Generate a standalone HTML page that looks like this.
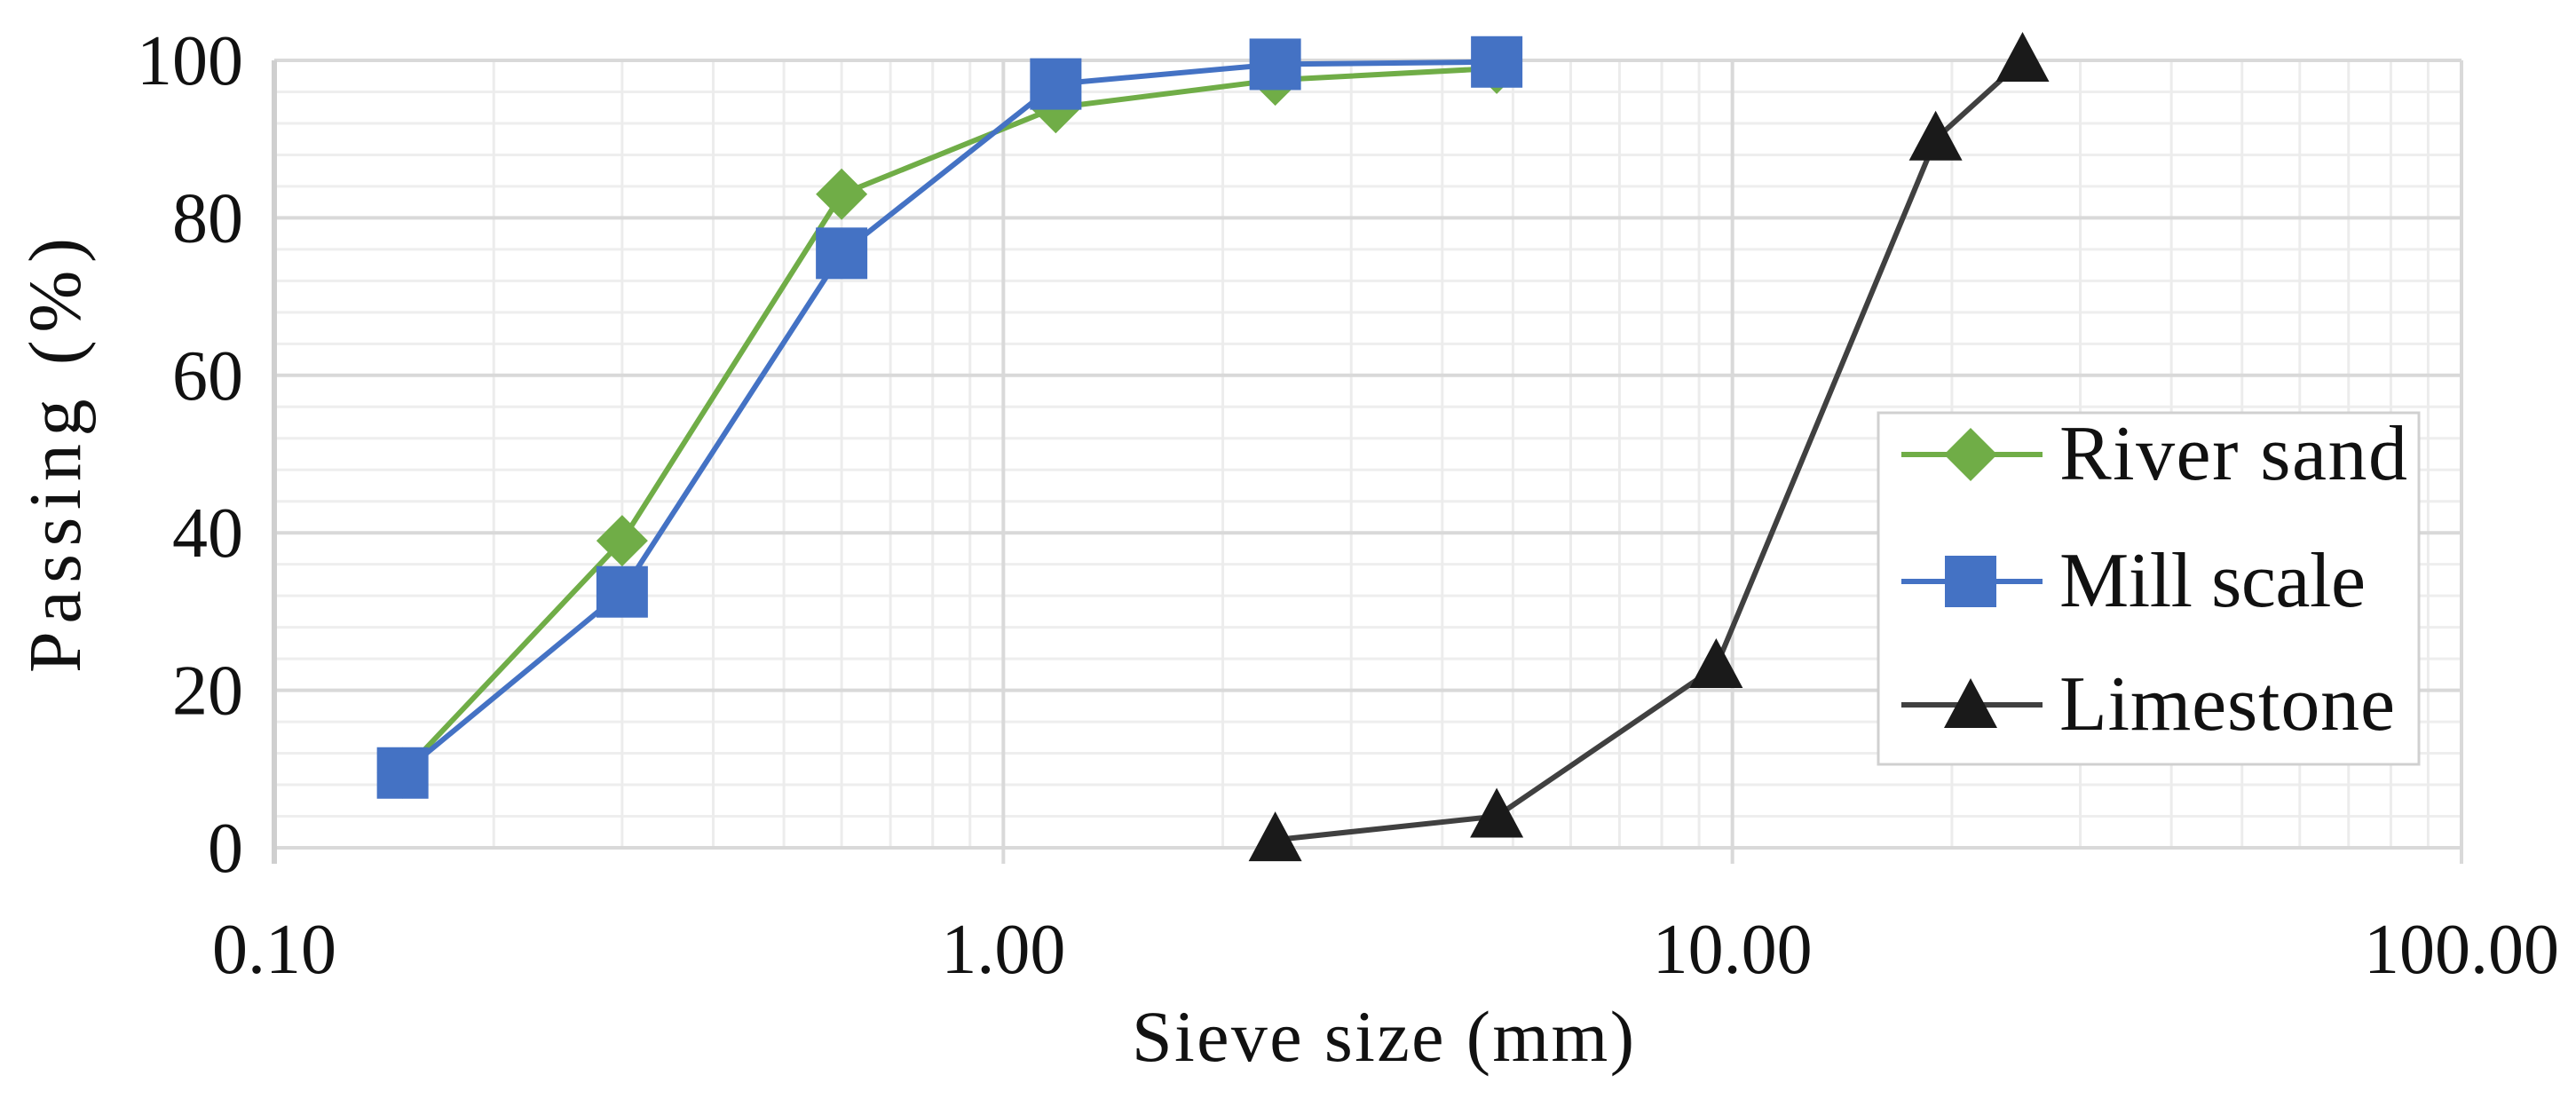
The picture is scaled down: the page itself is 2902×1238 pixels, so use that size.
<!DOCTYPE html>
<html><head><meta charset="utf-8"><style>
html,body{margin:0;padding:0;background:#fff;}
svg{display:block;font-family:"Liberation Serif",serif;}
</style></head><body>
<svg id="chart" width="2902" height="1238" viewBox="0 0 2902 1238" xmlns="http://www.w3.org/2000/svg">
<g id="grid"></g>
<g id="axes"></g>
<g id="series"></g>
<text x="1558" y="1195" font-size="82" text-anchor="middle" textLength="566" fill="#111">Sieve size (mm)</text>
<text transform="translate(90,513) rotate(-90)" font-size="84" text-anchor="middle" textLength="490" fill="#111">Passing (%)</text>
<g>
<rect x="2116" y="465" width="609" height="396" fill="#fff" stroke="#d0d0d0" stroke-width="3"/>
<g>
<line x1="2142" y1="512" x2="2301" y2="512" stroke="#70AD47" stroke-width="6"/>
<polygon points="2220,482 2250,512 2220,542 2190,512" fill="#70AD47"/>
<text x="2320" y="540" font-size="88" textLength="392" fill="#111">River sand</text></g>
<g>
<line x1="2142" y1="655" x2="2301" y2="655" stroke="#4472C4" stroke-width="6"/>
<rect x="2191" y="626" width="58" height="58" fill="#4472C4"/>
<text x="2320" y="683" font-size="88" textLength="345" fill="#111">Mill scale</text></g>
<g>
<line x1="2142" y1="794" x2="2301" y2="794" stroke="#404040" stroke-width="6"/>
<polygon points="2220,764 2250,820 2190,820" fill="#1a1a1a"/>
<text x="2320" y="822" font-size="88" textLength="378" fill="#111">Limestone</text></g>
</g>
</svg>
<script>
const xTicks=[0.1,1,10,100];
const xTickLabels=["0.10","1.00","10.00","100.00"];
const yTicks=[0,20,40,60,80,100];
const sandX=[0.15,0.3,0.6,1.18,2.36,4.75];
const sandY=[9.5,39,83,94,97.5,99];
const millX=[0.15,0.3,0.6,1.18,2.36,4.75];
const millY=[9.5,32.5,75.5,97,99.5,99.8];
const limeX=[2.36,4.75,9.5,19,25];
const limeY=[1,4,23,90,100];

const L=309,R=2773,T=68,B=955;
const xs=v=>L+(Math.log10(v)+1)/3*(R-L);
const ys=v=>B-v/100*(B-T);
const NS="http://www.w3.org/2000/svg";
function mk(tag,attrs,parent){const e=document.createElementNS(NS,tag);for(const k in attrs)e.setAttribute(k,attrs[k]);parent.appendChild(e);return e;}
const grid=document.getElementById('grid'),axes=document.getElementById('axes'),ser=document.getElementById('series');
for(let v=0;v<=100;v+=4){if(v%20===0)continue;const l=mk('line',{x1:L,x2:R,y1:ys(v),y2:ys(v),stroke:'#eeeeee','stroke-width':3},grid);

}
for(let d=0.1;d<100;d*=10){for(let k=2;k<=9;k++){const x=xs(d*k);const l=mk('line',{x1:x,x2:x,y1:T,y2:B,stroke:'#ececec','stroke-width':3},grid);

}}
yTicks.forEach(v=>{const l=mk('line',{x1:L,x2:R,y1:ys(v),y2:ys(v),stroke:'#d9d9d9','stroke-width':4},grid);


const t=mk('text',{x:274,y:ys(v)+27,'font-size':80,'text-anchor':'end',fill:'#111'},axes);t.textContent=v;

});
xTicks.forEach((v,i)=>{const l=mk('line',{x1:xs(v),x2:xs(v),y1:T,y2:B+18,stroke:'#d9d9d9','stroke-width':4},grid);


const t=mk('text',{x:xs(v),y:1096,'font-size':80,'text-anchor':'middle',fill:'#111'},axes);t.textContent=xTickLabels[i];

});
const ax=mk('line',{x1:L,x2:L,y1:T,y2:B+18,stroke:'#cfcfcf','stroke-width':6},axes);


function series(X,Y,color,name,marker,mcolor){
 const p=mk('polyline',{points:X.map((x,i)=>xs(x)+','+ys(Y[i])).join(' '),fill:'none',stroke:color,'stroke-width':6,'stroke-linejoin':'round'},ser);
 
 
 X.forEach((x,i)=>{const cx=xs(x),cy=ys(Y[i]);let m;
  if(marker==='d')m=mk('polygon',{points:`${cx},${cy-29} ${cx+29},${cy} ${cx},${cy+29} ${cx-29},${cy}`,fill:mcolor},ser);
  else if(marker==='s')m=mk('rect',{x:cx-29,y:cy-29,width:58,height:58,fill:mcolor},ser);
  else m=mk('polygon',{points:`${cx},${cy-32} ${cx+30},${cy+24} ${cx-30},${cy+24}`,fill:mcolor},ser);
  
  });
}
series(sandX,sandY,'#70AD47','river-sand','d','#70AD47');
series(millX,millY,'#4472C4','mill-scale','s','#4472C4');
series(limeX,limeY,'#404040','limestone','t','#1a1a1a');
</script>
</body></html>
